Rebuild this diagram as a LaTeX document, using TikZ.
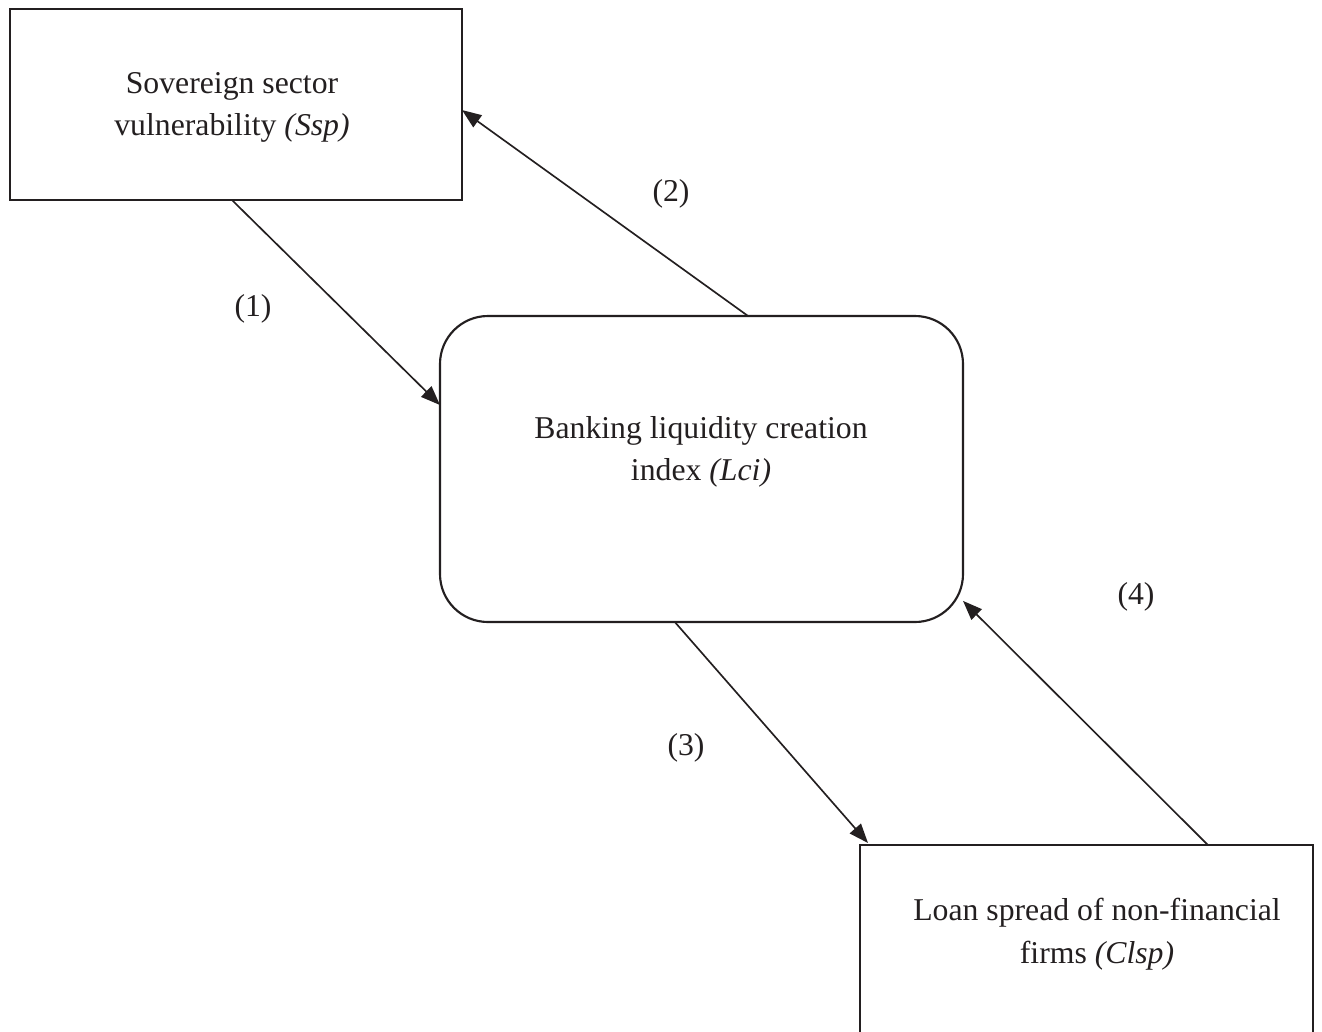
\documentclass[tikz,border=0pt]{standalone}
\usepackage{fontspec}
\setmainfont{Liberation Serif}
\usetikzlibrary{arrows.meta,calc}
\definecolor{ink}{HTML}{231F20}
\begin{document}
\begin{tikzpicture}[x=0.75pt,y=-0.75pt,
  box/.style={draw=ink, line width=1.6pt, inner sep=0pt, outer sep=0pt, anchor=north west},
  txt/.style={align=center, font=\fontsize{23.8pt}{31.9pt}\selectfont, text=ink, inner sep=0pt},
  lab/.style={font=\fontsize{23.8pt}{28pt}\selectfont, text=ink, inner sep=0pt},
  arr/.style={draw=ink, line width=1.25pt, -{Triangle[length=14.5pt,width=11pt]}}]
\useasboundingbox (0,0) rectangle (1322,1032);
\clip (0,0) rectangle (1322,1032);
% boxes
\node[box, minimum width=339pt, minimum height=143.25pt] (ssp) at (10,9) {};
\node[box, rounded corners=36pt, minimum width=392.25pt, minimum height=229.5pt] (lci) at (440,316) {};
\node[box, minimum width=339.75pt, minimum height=146.25pt] (clsp) at (860,845) {};
% texts
\node[txt] (ssptext) at (232,107.5) {Sovereign sector\\vulnerability \textit{(Ssp)}};
\node[txt] (lcitext) at (701,452) {Banking liquidity creation\\index \textit{(Lci)}};
\node[txt] (clsptext) at (1097,934) {Loan spread of non-financial\\firms \textit{(Clsp)}};
% connectors
\draw[arr] ($(ssp.south west)!0.491!(ssp.south east)$) -- ($(lci.north west)!0.291!(lci.south west)$);
\draw[arr] ($(lci.north west)!0.589!(lci.north east)$) -- ($(ssp.north east)!0.529!(ssp.south east)$);
\draw[arr] ($(lci.south west)!0.449!(lci.south east)$) -- ([shift={(8,-2)}]clsp.north west);
\draw[arr] ($(clsp.north west)!0.768!(clsp.north east)$) -- ($(lci.north east)!0.931!(lci.south east)$);
% labels
\node[lab] (l1) at (253,309) {(1)};
\node[lab] (l2) at (671,194) {(2)};
\node[lab] (l3) at (686,748) {(3)};
\node[lab] (l4) at (1136,597) {(4)};
\end{tikzpicture}
\end{document}
